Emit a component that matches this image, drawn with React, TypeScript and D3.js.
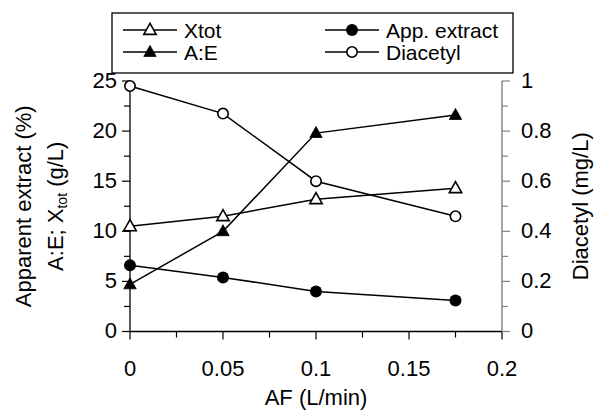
import React from "react";
import * as d3 from "d3";

const afValues = [0, 0.05, 0.1, 0.175];
const xtot = [10.5, 11.5, 13.2, 14.3];
const aToE = [4.7, 10.0, 19.8, 21.6];
const appExtract = [6.6, 5.4, 4.0, 3.1];
const diacetyl = [0.98, 0.87, 0.6, 0.46];

const xTicks = [0, 0.05, 0.1, 0.15, 0.2];
const xTickLabels = ["0", "0.05", "0.1", "0.15", "0.2"];
const leftTicks = [0, 5, 10, 15, 20, 25];
const rightTicks = [0, 0.2, 0.4, 0.6, 0.8, 1];
const rightTickLabels = ["0", "0.2", "0.4", "0.6", "0.8", "1"];

const W = 594;
const H = 411;
const FONT = "'Liberation Sans', Arial, sans-serif";

type Marker = "triUp" | "triFill" | "circFill" | "circOpen";

function MarkerShape({ kind, x, y }: { kind: Marker; x: number; y: number }) {
  if (kind === "circFill") return <circle cx={x} cy={y} r={6} fill="#000" />;
  if (kind === "circOpen")
    return <circle cx={x} cy={y} r={5.2} fill="#fff" stroke="#000" strokeWidth={1.6} />;
  const w = 6.2;
  const h = 11;
  const p = `M${x},${y - h * 0.6} L${x + w},${y + h * 0.4} L${x - w},${y + h * 0.4} Z`;
  if (kind === "triFill") return <path d={p} fill="#000" stroke="#000" strokeWidth={0.8} />;
  return <path d={p} fill="#fff" stroke="#000" strokeWidth={1.6} strokeLinejoin="miter" />;
}

export default function App() {
  const left = 130;
  const right = 502;
  const top = 81;
  const bottom = 331.5;

  const x = d3.scaleLinear().domain([0, 0.2]).range([left, right]);
  const yL = d3.scaleLinear().domain([0, 25]).range([bottom, top]);
  const yR = d3.scaleLinear().domain([0, 1]).range([bottom, top]);

  const lineL = d3
    .line<number>()
    .x((_, i) => x(afValues[i]))
    .y((d) => yL(d));
  const lineR = d3
    .line<number>()
    .x((_, i) => x(afValues[i]))
    .y((d) => yR(d));

  const series: { vals: number[]; kind: Marker; right: boolean }[] = [
    { vals: diacetyl, kind: "circOpen", right: true },
    { vals: xtot, kind: "triUp", right: false },
    { vals: appExtract, kind: "circFill", right: false },
    { vals: aToE, kind: "triFill", right: false },
  ];

  const xMinor = d3.range(0, 0.2001, 0.025);
  const yLMinor = d3.range(0, 25.001, 2.5);
  const yRMinor = d3.range(0, 1.0001, 0.1);

  const legend = [
    { label: "Xtot", kind: "triUp" as Marker, lx: 123, ly: 30 },
    { label: "A:E", kind: "triFill" as Marker, lx: 123, ly: 52 },
    { label: "App. extract", kind: "circFill" as Marker, lx: 325, ly: 30 },
    { label: "Diacetyl", kind: "circOpen" as Marker, lx: 325, ly: 52 },
  ];

  const FS = 22;

  return (
    <svg width={W} height={H} style={{ position: "absolute", left: 0, top: 0, background: "#fff" }} fontFamily={FONT}>
      <rect x={0} y={0} width={W} height={H} fill="#fff" />
      {/* legend */}
      <rect x={112} y={13} width={401} height={60} fill="#fff" stroke="#000" strokeWidth={1.3} />
      {legend.map((l) => (
        <g key={l.label}>
          <line x1={l.lx} x2={l.lx + 54} y1={l.ly} y2={l.ly} stroke="#000" strokeWidth={1.5} />
          <MarkerShape kind={l.kind} x={l.lx + 27} y={l.ly} />
          <text x={l.lx + 61} y={l.ly} dy="0.36em" fontSize={21}>
            {l.label}
          </text>
        </g>
      ))}

      {/* bottom axis */}
      <line x1={left} x2={right} y1={bottom} y2={bottom} stroke="#000" strokeWidth={1.3} />
      {xMinor.map((t, i) => (
        <line key={"xm" + i} x1={x(t)} x2={x(t)} y1={bottom} y2={bottom + (i % 2 === 0 ? 8 : 6)} stroke="#000" strokeWidth={1.2} />
      ))}
      {xTicks.map((t, i) => (
        <text key={"xt" + i} x={x(t)} y={376} textAnchor="middle" fontSize={FS}>
          {xTickLabels[i]}
        </text>
      ))}
      <text x={(left + right) / 2} y={405} textAnchor="middle" fontSize={FS}>
        AF (L/min)
      </text>

      {/* left axis */}
      <line x1={left} x2={left} y1={top} y2={bottom} stroke="#000" strokeWidth={1.3} />
      {yLMinor.map((t, i) => (
        <line key={"ylm" + i} x1={left - (i % 2 === 0 ? 8 : 6)} x2={left} y1={yL(t)} y2={yL(t)} stroke="#000" strokeWidth={1.2} />
      ))}
      {leftTicks.map((t) => (
        <text key={"ylt" + t} x={117} y={yL(t) - 1} dy="0.36em" textAnchor="end" fontSize={FS}>
          {t}
        </text>
      ))}
      <text transform={`translate(31,${(top + bottom) / 2}) rotate(-90)`} textAnchor="middle" fontSize={FS}>
        Apparent extract (%)
      </text>
      <text transform={`translate(63,${(top + bottom) / 2}) rotate(-90)`} textAnchor="middle" fontSize={FS}>
        A:E; X
        <tspan fontSize={14} dy={4}>tot</tspan>
        <tspan dy={-4}> (g/L)</tspan>
      </text>

      {/* right axis */}
      <line x1={right} x2={right} y1={top} y2={bottom} stroke="#808080" strokeWidth={1.4} />
      {yRMinor.map((t, i) => (
        <line key={"yrm" + i} x1={right} x2={right + (i % 2 === 0 ? 8 : 6)} y1={yR(t)} y2={yR(t)} stroke="#808080" strokeWidth={1.2} />
      ))}
      {rightTicks.map((t, i) => (
        <text key={"yrt" + i} x={521} y={yR(t) - 1} dy="0.36em" textAnchor="start" fontSize={FS}>
          {rightTickLabels[i]}
        </text>
      ))}
      <text transform={`translate(588,${(top + bottom) / 2}) rotate(-90)`} textAnchor="middle" fontSize={FS}>
        Diacetyl (mg/L)
      </text>

      {/* series */}
      {series.map((s, si) => (
        <path key={"l" + si} d={(s.right ? lineR : lineL)(s.vals) || ""} fill="none" stroke="#000" strokeWidth={1.5} />
      ))}
      {series.map((s, si) =>
        s.vals.map((v, i) => (
          <MarkerShape key={"m" + si + "-" + i} kind={s.kind} x={x(afValues[i])} y={s.right ? yR(v) : yL(v)} />
        ))
      )}
    </svg>
  );
}
